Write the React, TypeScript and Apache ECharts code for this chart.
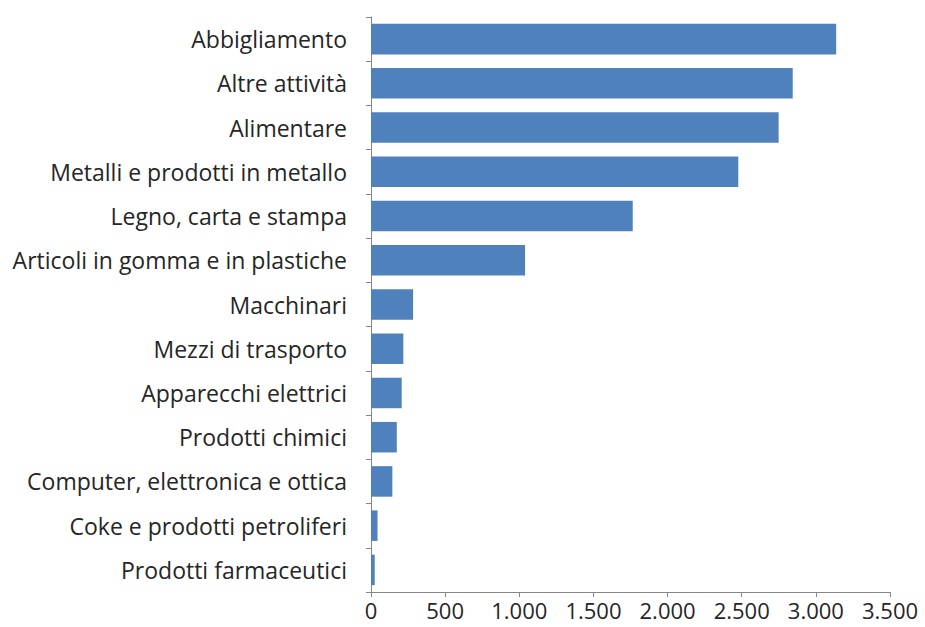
import React, { useEffect, useRef } from "react";
import * as echarts from "echarts";

const categories = [
  "Abbigliamento",
  "Altre attività",
  "Alimentare",
  "Metalli e prodotti in metallo",
  "Legno, carta e stampa",
  "Articoli in gomma e in plastiche",
  "Macchinari",
  "Mezzi di trasporto",
  "Apparecchi elettrici",
  "Prodotti chimici",
  "Computer, elettronica e ottica",
  "Coke e prodotti petroliferi",
  "Prodotti farmaceutici",
];

const values = [3137, 2844, 2749, 2477, 1765, 1039, 284, 218, 207, 174, 144, 44, 25];

const xTicks = { min: 0, max: 3500, interval: 500 };

function fmt(v: number): string {
  return String(Math.round(v)).replace(/\B(?=(\d{3})+(?!\d))/g, ".");
}

export default function App() {
  const ref = useRef<HTMLDivElement>(null);
  useEffect(() => {
    if (!ref.current) return;
    const chart = echarts.init(ref.current, null, { renderer: "svg" });
    const font = "'Open Sans', 'Noto Sans', sans-serif";
    chart.setOption({
      animation: false,
      backgroundColor: "#ffffff",
      grid: { left: 371, right: 35, top: 17, bottom: 35, containLabel: false },
      xAxis: {
        type: "value",
        min: xTicks.min,
        max: xTicks.max,
        interval: xTicks.interval,
        axisLine: { show: true, lineStyle: { color: "#868686", width: 1 } },
        axisTick: { show: true, length: 5, lineStyle: { color: "#868686" } },
        splitLine: { show: false },
        axisLabel: {
          color: "#262626",
          fontSize: 22,
          fontFamily: font,
          margin: 7,
          formatter: (v: number) => fmt(v),
        },
      },
      yAxis: {
        type: "category",
        data: categories,
        inverse: true,
        axisLine: { show: true, lineStyle: { color: "#868686", width: 1 } },
        axisTick: { show: true, length: 5, lineStyle: { color: "#868686" } },
        axisLabel: {
          color: "#262626",
          fontSize: 23,
          fontFamily: font,
          margin: 24,
        },
      },
      series: [
        {
          type: "bar",
          data: values,
          barCategoryGap: "31%",
          itemStyle: { color: "#4F81BD" },
        },
      ],
    });
    return () => chart.dispose();
  }, []);
  return (
    <div
      ref={ref}
      style={{ position: "fixed", left: 0, top: 0, width: 925, height: 627, background: "#fff" }}
    />
  );
}
